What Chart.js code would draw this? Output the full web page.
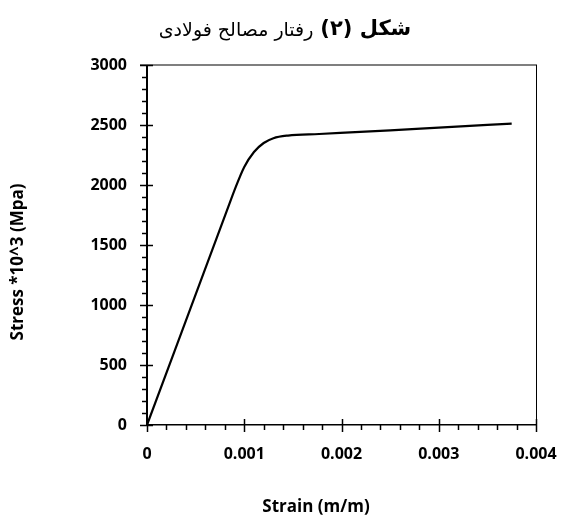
<!DOCTYPE html>
<html><head><meta charset="utf-8">
<script src="https://cdn.jsdelivr.net/npm/chart.js@4"></script>
<style>html,body{margin:0;padding:0;background:#fff;}#wrap{width:561px;height:518px;position:relative;}</style>
</head><body><div id="wrap"><canvas id="c" width="561" height="518"></canvas></div>
<script>
const strainValues = [0, 0.00085, 0.0009, 0.001, 0.0011, 0.0012, 0.0013, 0.00145, 0.00177, 0.0025, 0.003, 0.00375];
const stressValues = [0, 1848, 1957, 2150, 2275, 2350, 2390, 2412, 2425, 2455, 2478, 2512];
const xTickLabels = ['0', '0.001', '0.002', '0.003', '0.004'];
const yTickLabels = ['0', '500', '1000', '1500', '2000', '2500', '3000'];
const titleBold = 'شکل (۲)';
const titleRegular = 'رفتار مصالح فولادی';
const xTitle = 'Strain (m/m)';
const yTitle = 'Stress *10^3 (Mpa)';

const tickFont = {family: "'Open Sans', sans-serif", size: 16, weight: 'bold'};

const decor = {
  id: 'decor',
  afterDraw(chart) {
    const {ctx, chartArea: a, scales: {x, y}} = chart;
    ctx.save();
    // top border
    ctx.strokeStyle = '#7f7f7f'; ctx.lineWidth = 2;
    ctx.beginPath(); ctx.moveTo(a.left - 7, a.top); ctx.lineTo(a.right + 1, a.top); ctx.stroke();
    // right border
    ctx.strokeStyle = '#000'; ctx.lineWidth = 1;
    ctx.beginPath(); ctx.moveTo(a.right + 0.5, a.top); ctx.lineTo(a.right + 0.5, a.bottom); ctx.stroke();
    // y ticks
    ctx.lineWidth = 1.5; ctx.strokeStyle = '#000';
    for (let v = 0; v <= 3000; v += 100) {
      const py = Math.round(y.getPixelForValue(v)) + 0.5;
      const major = v % 500 === 0;
      ctx.beginPath();
      ctx.moveTo(a.left - (major ? 7 : 5), py);
      ctx.lineTo(major ? a.left + 6 : a.left, py);
      ctx.stroke();
    }
    // x ticks
    for (let i = 0; i <= 20; i++) {
      const v = i * 0.0002;
      const px = Math.round(x.getPixelForValue(v)) + 0.5;
      const major = i % 5 === 0;
      ctx.beginPath();
      ctx.moveTo(px, major ? a.bottom - 6 : a.bottom);
      ctx.lineTo(px, a.bottom + (major ? 7 : 5));
      ctx.stroke();
    }
    // axis titles
    ctx.fillStyle = '#000';
    ctx.font = "bold 17px 'Open Sans', sans-serif";
    ctx.textAlign = 'center'; ctx.textBaseline = 'middle';
    ctx.fillText(xTitle, 316, 507);
    ctx.save();
    ctx.translate(18, 262); ctx.rotate(-Math.PI / 2);
    ctx.fillText(yTitle, 0, 0);
    ctx.restore();
    // chart title (RTL)
    ctx.direction = 'rtl';
    ctx.textAlign = 'right'; ctx.textBaseline = 'middle';
    const fb = "bold 21px 'DejaVu Sans', sans-serif";
    const fr = "19px 'DejaVu Sans', sans-serif";
    ctx.font = fb; const wb = ctx.measureText(titleBold).width;
    ctx.font = fr; const wr = ctx.measureText(titleRegular).width;
    const gap = 7;
    const total = wb + gap + wr;
    const xr = 285 + total / 2;
    ctx.font = fb; ctx.fillText(titleBold, xr, 30);
    ctx.font = fr; ctx.fillText(titleRegular, xr - wb - gap, 31);
    ctx.restore();
  }
};

new Chart(document.getElementById('c'), {
  type: 'line',
  data: {
    datasets: [{
      data: strainValues.map((s, i) => ({x: s, y: stressValues[i]})),
      borderColor: '#000',
      borderWidth: 2.2,
      pointRadius: 0,
      cubicInterpolationMode: 'monotone',
      fill: false
    }]
  },
  options: {
    responsive: false,
    animation: false,
    devicePixelRatio: 1,
    layout: {padding: {left: 0, right: 25, top: 65, bottom: 0}},
    plugins: {legend: {display: false}, tooltip: {enabled: false}, title: {display: false}},
    scales: {
      x: {
        type: 'linear', min: 0, max: 0.004,
        afterFit: s => { s.height = 93; s.paddingLeft = 0; s.paddingRight = 0; },
        grid: {display: false, drawTicks: false},
        border: {display: true, color: '#000', width: 1.5},
        ticks: {
          stepSize: 0.001, padding: 20, color: '#000', font: tickFont, maxRotation: 0,
          callback: (v) => { const i = Math.round(v / 0.001); return Math.abs(v - i * 0.001) < 1e-9 ? xTickLabels[i] : ''; }
        }
      },
      y: {
        type: 'linear', min: 0, max: 3000,
        afterFit: s => { s.width = 147; s.paddingTop = 0; s.paddingBottom = 0; },
        grid: {display: false, drawTicks: false},
        border: {display: true, color: '#000', width: 2},
        ticks: {
          stepSize: 500, padding: 20, color: '#000', font: tickFont,
          callback: (v) => yTickLabels[Math.round(v / 500)]
        }
      }
    }
  },
  plugins: [decor]
});
</script></body></html>
